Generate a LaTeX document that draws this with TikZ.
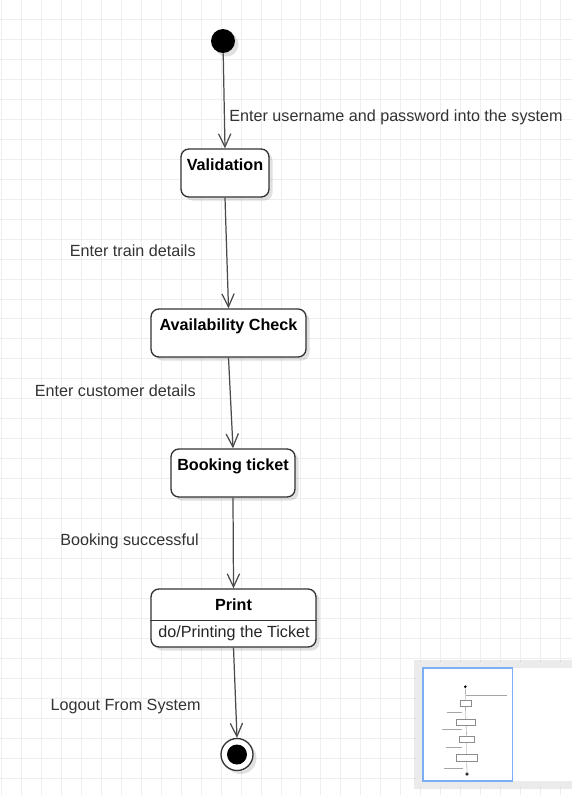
\documentclass[tikz,border=0pt]{standalone}
\usepackage{fontspec}
\setmainfont{Liberation Sans}
\usetikzlibrary{arrows.meta,shadows}
\definecolor{edgec}{HTML}{333333}
\definecolor{arrowc}{HTML}{4A4A4A}
\definecolor{labelc}{HTML}{333333}
\definecolor{gridc}{HTML}{EEEEEE}
\definecolor{panelc}{HTML}{EBEBEB}
\definecolor{viewc}{HTML}{7BAEF2}

\begin{document}
\begin{tikzpicture}[x=0.02cm,y=-0.02cm,font=\fontsize{9.2}{11}\selectfont,
    shade/.style={drop shadow={shadow xshift=2pt,shadow yshift=-2pt,opacity=0.12,fill=black}},
    state/.style={draw=edgec,line width=0.75pt,rounded corners=4.5pt,fill=white,shade,inner sep=0pt,
        text height=0.42cm,text depth=0.54cm,font=\fontsize{9.2}{11}\selectfont\bfseries,text=black},
    trans/.style={draw=arrowc,line width=0.7pt,-{Straight Barb[length=7.5pt,width=7pt]}},
    lbl/.style={text=labelc,inner sep=0pt}]
    \fill[white] (0,0) rectangle (572,795);
    \useasboundingbox (0,0) rectangle (572,795);
    \draw[gridc,line width=0.5pt,shift={(1,-1)}] (-1,1) grid[step=0.4cm] (571,796);
    % states
    \node[circle,fill=black,minimum size=0.48cm,inner sep=0pt,shade] (init) at (223,41) {};
    \node[state,minimum width=1.76cm] (val) at (225,173) {Validation};
    \node[state,minimum width=3.1cm] (avail) at (228.5,333) {Availability Check};
    \node[state,minimum width=2.48cm] (book) at (233,473) {Booking ticket};
    \node[state,minimum width=3.3cm,text depth=0.74cm] (print) at (233.5,618) {Print};
    \node[lbl,anchor=base,text=black!85,text height=0.336cm,text depth=0.05cm] (printdo) at (234,637.3) {do/Printing the Ticket};
    \draw[edgec,line width=0.75pt] (print.west |- printdo.north) -- (print.east |- printdo.north);
    \node[circle,draw=edgec,line width=0.75pt,fill=white,minimum size=0.64cm,inner sep=0pt,shade] (final) at (237,754.5) {};
    \node[circle,fill=black,minimum size=0.4cm,inner sep=0pt] (finaldot) at (final) {};
    % transitions
    \draw[trans] (init) -- (val.north);
    \draw[trans] (val.south) -- (avail.north);
    \draw[trans] (avail.south) -- (book.north);
    \draw[trans] (book.south) -- (print.north);
    \draw[trans] (print.south) -- (final.north);
    \node[lbl,anchor=base west] (login) at (229,121) {Enter username and password into the system};
    \node[lbl,anchor=base east] (train) at (196,256) {Enter train details};
    \node[lbl,anchor=base east] (customer) at (196,396.7) {Enter customer details};
    \node[lbl,anchor=base east] (success) at (199,545) {Booking successful};
    \node[lbl,anchor=base east] (logout) at (201,710.7) {Logout From System};
    % outline panel
    \fill[black,opacity=0.08] (414,660) rectangle (572,789);
    \fill[panelc] (416,662) rectangle (572,787);
    \fill[white] (423,668) rectangle (572,781);
    \begin{scope}[shift={(438,681.7)},scale=0.1224,line width=0.2pt,draw=black!45]
        \fill[black] (223,41) circle (12);
        \draw (181,149) rectangle (269,197);
        \draw (151,309) rectangle (306,357);
        \draw (171,449) rectangle (295,497);
        \draw (151,589) rectangle (316,647);
        \draw (223,53) -- (225,149) (225,197) -- (228,309) (229,357) -- (233,449) (233,497) -- (233,589) (234,647) -- (237,738);
        \draw (237,754.5) circle (16);
        \fill[black] (237,754.5) circle (10);
        \draw[black!35,line width=0.6pt] (229,116) -- (563,116) (70,251) -- (196,251) (35,392) -- (196,392) (62,540) -- (199,540) (51,706) -- (201,706);
    \end{scope}
    \draw[viewc,line width=0.8pt] (423,668) rectangle (512.5,781);
\end{tikzpicture}
\end{document}
